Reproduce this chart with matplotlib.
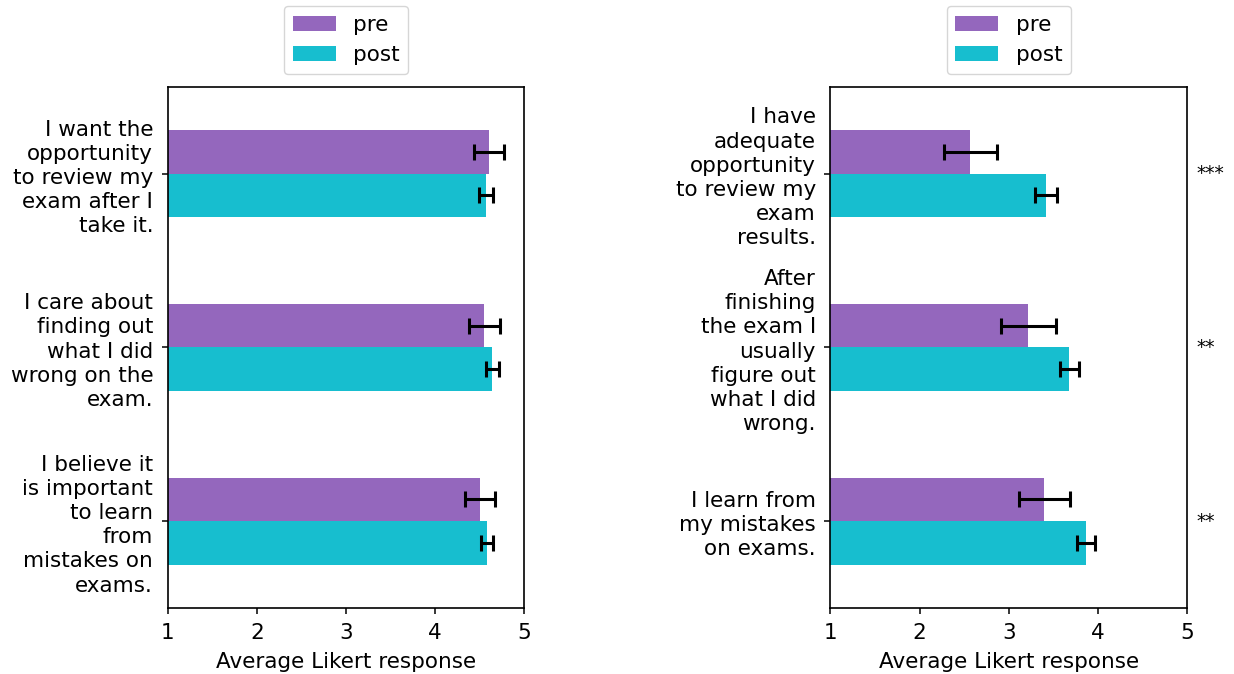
import numpy as np
import matplotlib
matplotlib.use("Agg")
from matplotlib import pyplot as plt

left_labels = ["I want the\nopportunity\nto review my\nexam after I\ntake it.",
               "I care about\nfinding out\nwhat I did\nwrong on the\nexam.",
               "I believe it\nis important\nto learn\nfrom\nmistakes on\nexams."]
left_pre = [4.60, 4.55, 4.50]
left_pre_err = [0.17, 0.176, 0.165]
left_post = [4.57, 4.64, 4.585]
left_post_err = [0.08, 0.075, 0.067]

right_labels = ["I have\nadequate\nopportunity\nto review my\nexam\nresults.",
                "After\nfinishing\nthe exam I\nusually\nfigure out\nwhat I did\nwrong.",
                "I learn from\nmy mistakes\non exams."]
right_pre = [2.57, 3.22, 3.40]
right_pre_err = [0.30, 0.31, 0.286]
right_post = [3.42, 3.68, 3.87]
right_post_err = [0.125, 0.11, 0.10]
right_sig = ["***", "**", "**"]

fs = 15.5
plt.rcParams['font.size'] = fs
fig = plt.figure(figsize=(12.34, 6.74), dpi=100)
ax1 = fig.add_axes([0.136, 0.098, 0.289, 0.773])
ax2 = fig.add_axes([0.673, 0.098, 0.289, 0.773])

h = 0.25
err_kw = dict(ecolor="black", capsize=6, elinewidth=2.2, capthick=2.2)


def draw(ax, labels, pre, pre_err, post, post_err):
    y = np.arange(len(labels))
    ax.barh(y - h / 2, pre, h, xerr=pre_err, color="tab:purple", label="pre",
            error_kw=err_kw)
    ax.barh(y + h / 2, post, h, xerr=post_err, color="tab:cyan", label="post",
            error_kw=err_kw)
    ax.set_yticks(y)
    ax.set_yticklabels(labels, fontsize=fs, linespacing=1.26)
    ax.set_ylim(len(labels) - 0.5, -0.5)
    ax.set_xlim(1, 5)
    ax.set_xticks([1, 2, 3, 4, 5])
    ax.set_xlabel("Average Likert response", fontsize=fs, labelpad=7)
    ax.tick_params(labelsize=fs, length=4.5, width=1.1)
    ax.tick_params(axis="x", pad=6)
    ax.tick_params(axis="y", pad=6)
    for sp in ax.spines.values():
        sp.set_linewidth(1.2)
    ax.legend(loc="lower center", bbox_to_anchor=(0.5, 1.0), fontsize=fs,
              borderaxespad=0.6)
    return y


draw(ax1, left_labels, left_pre, left_pre_err, left_post, left_post_err)
y2 = draw(ax2, right_labels, right_pre, right_pre_err, right_post, right_post_err)
for yy, s in zip(y2, right_sig):
    ax2.text(1.025, yy, s, transform=ax2.get_yaxis_transform(),
             va="center", ha="left", fontsize=13.5)

fig.savefig("out.png", dpi=100)
